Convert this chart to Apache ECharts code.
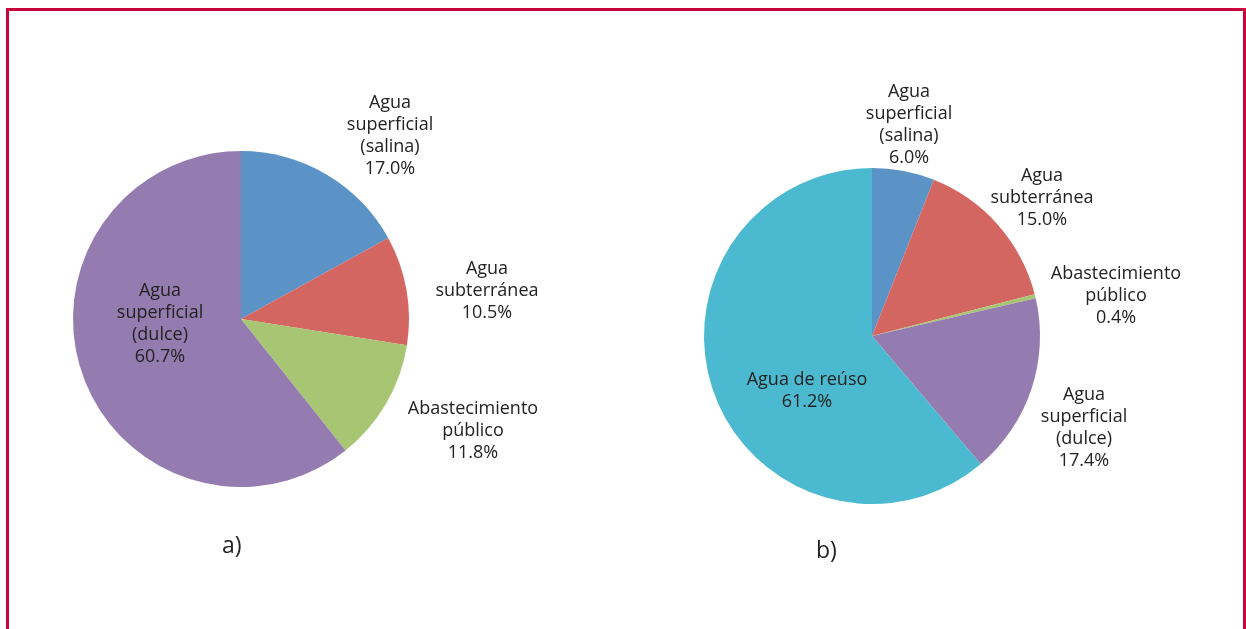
<!DOCTYPE html>
<html>
<head>
<meta charset="utf-8">
<script src="https://cdn.jsdelivr.net/npm/echarts@6/dist/echarts.min.js"></script>
<style>
  html, body { margin: 0; padding: 0; background: #fff; }
  #frame { position: absolute; left: 6px; top: 8px; width: 1234px; height: 700px;
           border: 3px solid #c8043c; }
  #main { position: absolute; left: 0; top: 0; width: 1246px; height: 629px; }
</style>
</head>
<body>
<div id="frame"></div>
<div id="main"></div>
<script>
// panel a)
var namesA = ['Agua\nsuperficial\n(salina)', 'Agua\nsubterránea', 'Abastecimiento\npúblico', 'Agua\nsuperficial\n(dulce)'];
var valuesA = [17.0, 10.5, 11.8, 60.7];
var colorsA = ['#5b93c6', '#d46662', '#a8c574', '#957cb0'];

// panel b)
var namesB = ['Agua\nsuperficial\n(salina)', 'Agua\nsubterránea', 'Abastecimiento\npúblico', 'Agua\nsuperficial\n(dulce)', 'Agua de reúso'];
var valuesB = [6.0, 15.0, 0.4, 17.4, 61.2];
var colorsB = ['#5b93c6', '#d46662', '#a8c574', '#957cb0', '#4bb9cf'];

// label centres (layout only)
var labelPosA = [[390, 136], [487, 291], [473, 431], [160, 324]];
var labelPosB = [[909, 125], [1042, 198], [1116, 296], [1084, 428], [807, 391]];

var chart = echarts.init(document.getElementById('main'));

var textStyle = { color: '#222', fontSize: 18, lineHeight: 22, fontFamily: 'Open Sans' };

function buildData(names, values, colors) {
    return names.map(function (n, i) {
        return { name: n, value: values[i], itemStyle: { color: colors[i] } };
    });
}

function pieSeries(center, data, pos) {
    return {
        type: 'pie',
        center: center,
        radius: 168,
        startAngle: 90,
        clockwise: true,
        silent: true,
        animation: false,
        data: data,
        label: Object.assign({
            show: true,
            position: 'outside',
            align: 'center',
            overflow: 'none',
            formatter: function (p) { return p.name + '\n' + p.value.toFixed(1) + '%'; }
        }, textStyle),
        labelLine: { show: false },
        labelLayout: function (p) {
            var xy = pos[p.dataIndex];
            return { x: xy[0], y: xy[1], align: 'center', verticalAlign: 'middle' };
        }
    };
}

var titleStyle = { fontSize: 23, fontWeight: 'normal', color: '#222', fontFamily: 'Open Sans' };

chart.setOption({
    backgroundColor: 'transparent',
    title: [
        { text: 'a)', left: 217, top: 530, textStyle: titleStyle },
        { text: 'b)', left: 811, top: 535, textStyle: titleStyle }
    ],
    series: [
        pieSeries([241, 319], buildData(namesA, valuesA, colorsA), labelPosA),
        pieSeries([872, 336], buildData(namesB, valuesB, colorsB), labelPosB)
    ]
});
</script>
</body>
</html>
